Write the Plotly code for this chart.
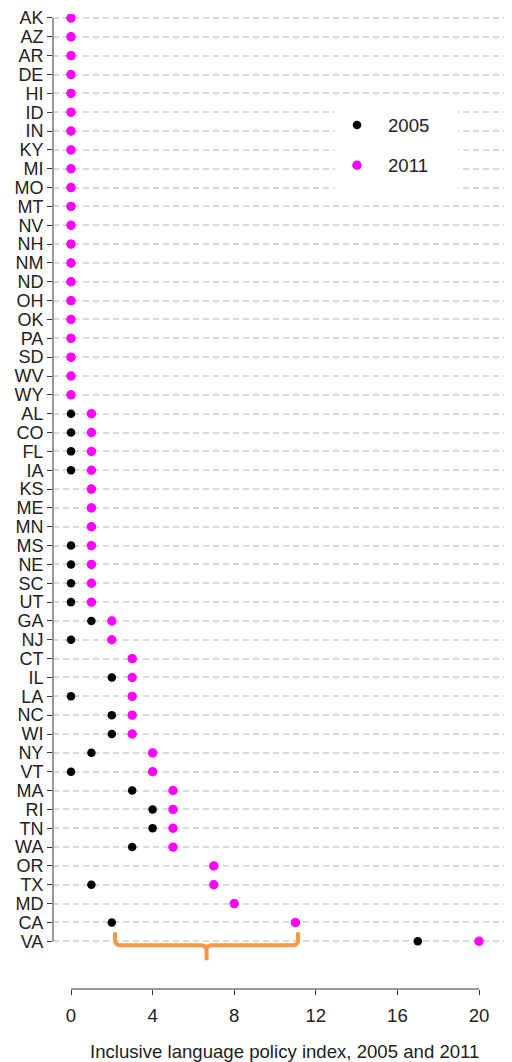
import plotly.graph_objects as go

states = ["AK", "AZ", "AR", "DE", "HI", "ID", "IN", "KY", "MI", "MO", "MT", "NV", "NH", "NM",
          "ND", "OH", "OK", "PA", "SD", "WV", "WY",
          "AL", "CO", "FL", "IA", "KS", "ME", "MN", "MS", "NE", "SC", "UT",
          "GA", "NJ",
          "CT", "IL", "LA", "NC", "WI",
          "NY", "VT",
          "MA", "RI", "TN", "WA",
          "OR", "TX", "MD", "CA", "VA"]
idx2005 = [0]*21 + [0, 0, 0, 0, 1, 1, 1, 0, 0, 0, 0] + [1, 0] + [3, 2, 0, 2, 2] + [1, 0] + [3, 4, 4, 3] + [7, 1, 8, 2, 17]
idx2011 = [0]*21 + [1]*11 + [2, 2] + [3]*5 + [4, 4] + [5]*4 + [7, 7, 8, 11, 20]
xticks = [0, 4, 8, 12, 16, 20]

FONT = "Liberation Sans, Arial, sans-serif"
FS = 18.6
FSY = 18
TXT = "#222222"
OFF = 8                      # page body margin
W, H = 512 - OFF, 1062 - OFF
L = 53 - OFF                 # plot left (figure px)
PH = 989 - OFF               # plot bottom (figure px)
B = H - PH
PW = W - L
ppx = 20.4                   # px per x unit
x0px = 71 - 53               # x=0 inside plot
ppy = (941 - 12) / 49        # px per row
top_row = 12 - OFF           # AK row inside plot


def px(xr):      # reference screen x -> paper
    return (xr - 53) / PW


def py(yr):      # reference screen y -> paper
    return (PH - (yr - OFF)) / PH


fig = go.Figure()
fig.add_trace(go.Scatter(x=idx2005, y=states, mode="markers", name="2005",
                         legendgroup="a",
                         marker=dict(color="black", size=8.5, line=dict(width=0))))
fig.add_trace(go.Scatter(x=idx2011, y=states, mode="markers", name="2011",
                         legendgroup="b",
                         marker=dict(color="#ff00ff", size=8.2,
                                     line=dict(width=1.2, color="#ff00ff"))))

# white box behind legend
fig.add_shape(type="rect", xref="paper", yref="paper",
              x0=px(335), x1=px(458), y0=py(192), y1=py(95),
              fillcolor="white", line=dict(width=0), layer="above")

# axis lines (R style, spanning only data range)
fig.add_shape(type="line", xref="x", yref="paper", x0=xticks[0], x1=xticks[-1], y0=0, y1=0,
              line=dict(color="#333333", width=1))
fig.add_shape(type="line", xref="paper", yref="y", x0=0, x1=0, y0=states[0], y1=states[-1],
              line=dict(color="#333333", width=1))

# orange brace under CA's change
ca = states.index("CA")
va = states.index("VA")
xa = idx2005[ca] + 0.16
xb = idx2011[ca] + 0.13
xm = (xa + xb) / 2
r = 0.25
yt, yc, yb = va - 0.475, va + 0.211, va + 1.0
path = (f"M {xa},{yt} L {xa},{yc - 0.26} Q {xa},{yc} {xa + r},{yc} "
        f"L {xm - r},{yc} Q {xm},{yc} {xm},{yc + 0.26} L {xm},{yb} "
        f"M {xm},{yc + 0.26} Q {xm},{yc} {xm + r},{yc} "
        f"L {xb - r},{yc} Q {xb},{yc} {xb},{yc - 0.26} L {xb},{yt}")
fig.add_shape(type="path", xref="x", yref="y", path=path,
              line=dict(color="#F79646", width=4), layer="above")

fig.add_annotation(text="Inclusive language policy index, 2005 and 2011",
                   xref="paper", yref="paper", x=px(284), y=0, yshift=-(1051 - 989),
                   xanchor="center", yanchor="middle", showarrow=False,
                   font=dict(family=FONT, size=FS, color=TXT))

fig.update_layout(
    width=W, height=H,
    margin=dict(l=L, r=0, t=0, b=B, pad=0),
    paper_bgcolor="white", plot_bgcolor="white",
    font=dict(family=FONT, size=FS, color=TXT),
    showlegend=True,
    legend=dict(x=px(326), y=py(101), xanchor="left", yanchor="top",
                bgcolor="rgba(0,0,0,0)", borderwidth=0, traceorder="grouped",
                tracegroupgap=13, itemwidth=52,
                font=dict(family=FONT, size=FS, color=TXT)),
    xaxis=dict(range=[-x0px / ppx, (PW - x0px) / ppx], tickvals=xticks,
               showgrid=False, zeroline=False, showline=False,
               ticks="outside", ticklen=5, tickcolor="#333333",
               ticklabelstandoff=5,
               tickfont=dict(family=FONT, size=FS, color=TXT)),
    yaxis=dict(type="category", categoryarray=states, categoryorder="array",
               tickmode="array", tickvals=states, ticktext=states,
               range=[(PH - top_row) / ppy, -top_row / ppy],
               showgrid=True, gridcolor="#dadada", griddash="6px,4px", gridwidth=1.5,
               zeroline=False, showline=False,
               ticks="outside", ticklen=5, tickcolor="#333333",
               tickfont=dict(family=FONT, size=FSY, color=TXT)),
)

fig.write_html("out.html")
